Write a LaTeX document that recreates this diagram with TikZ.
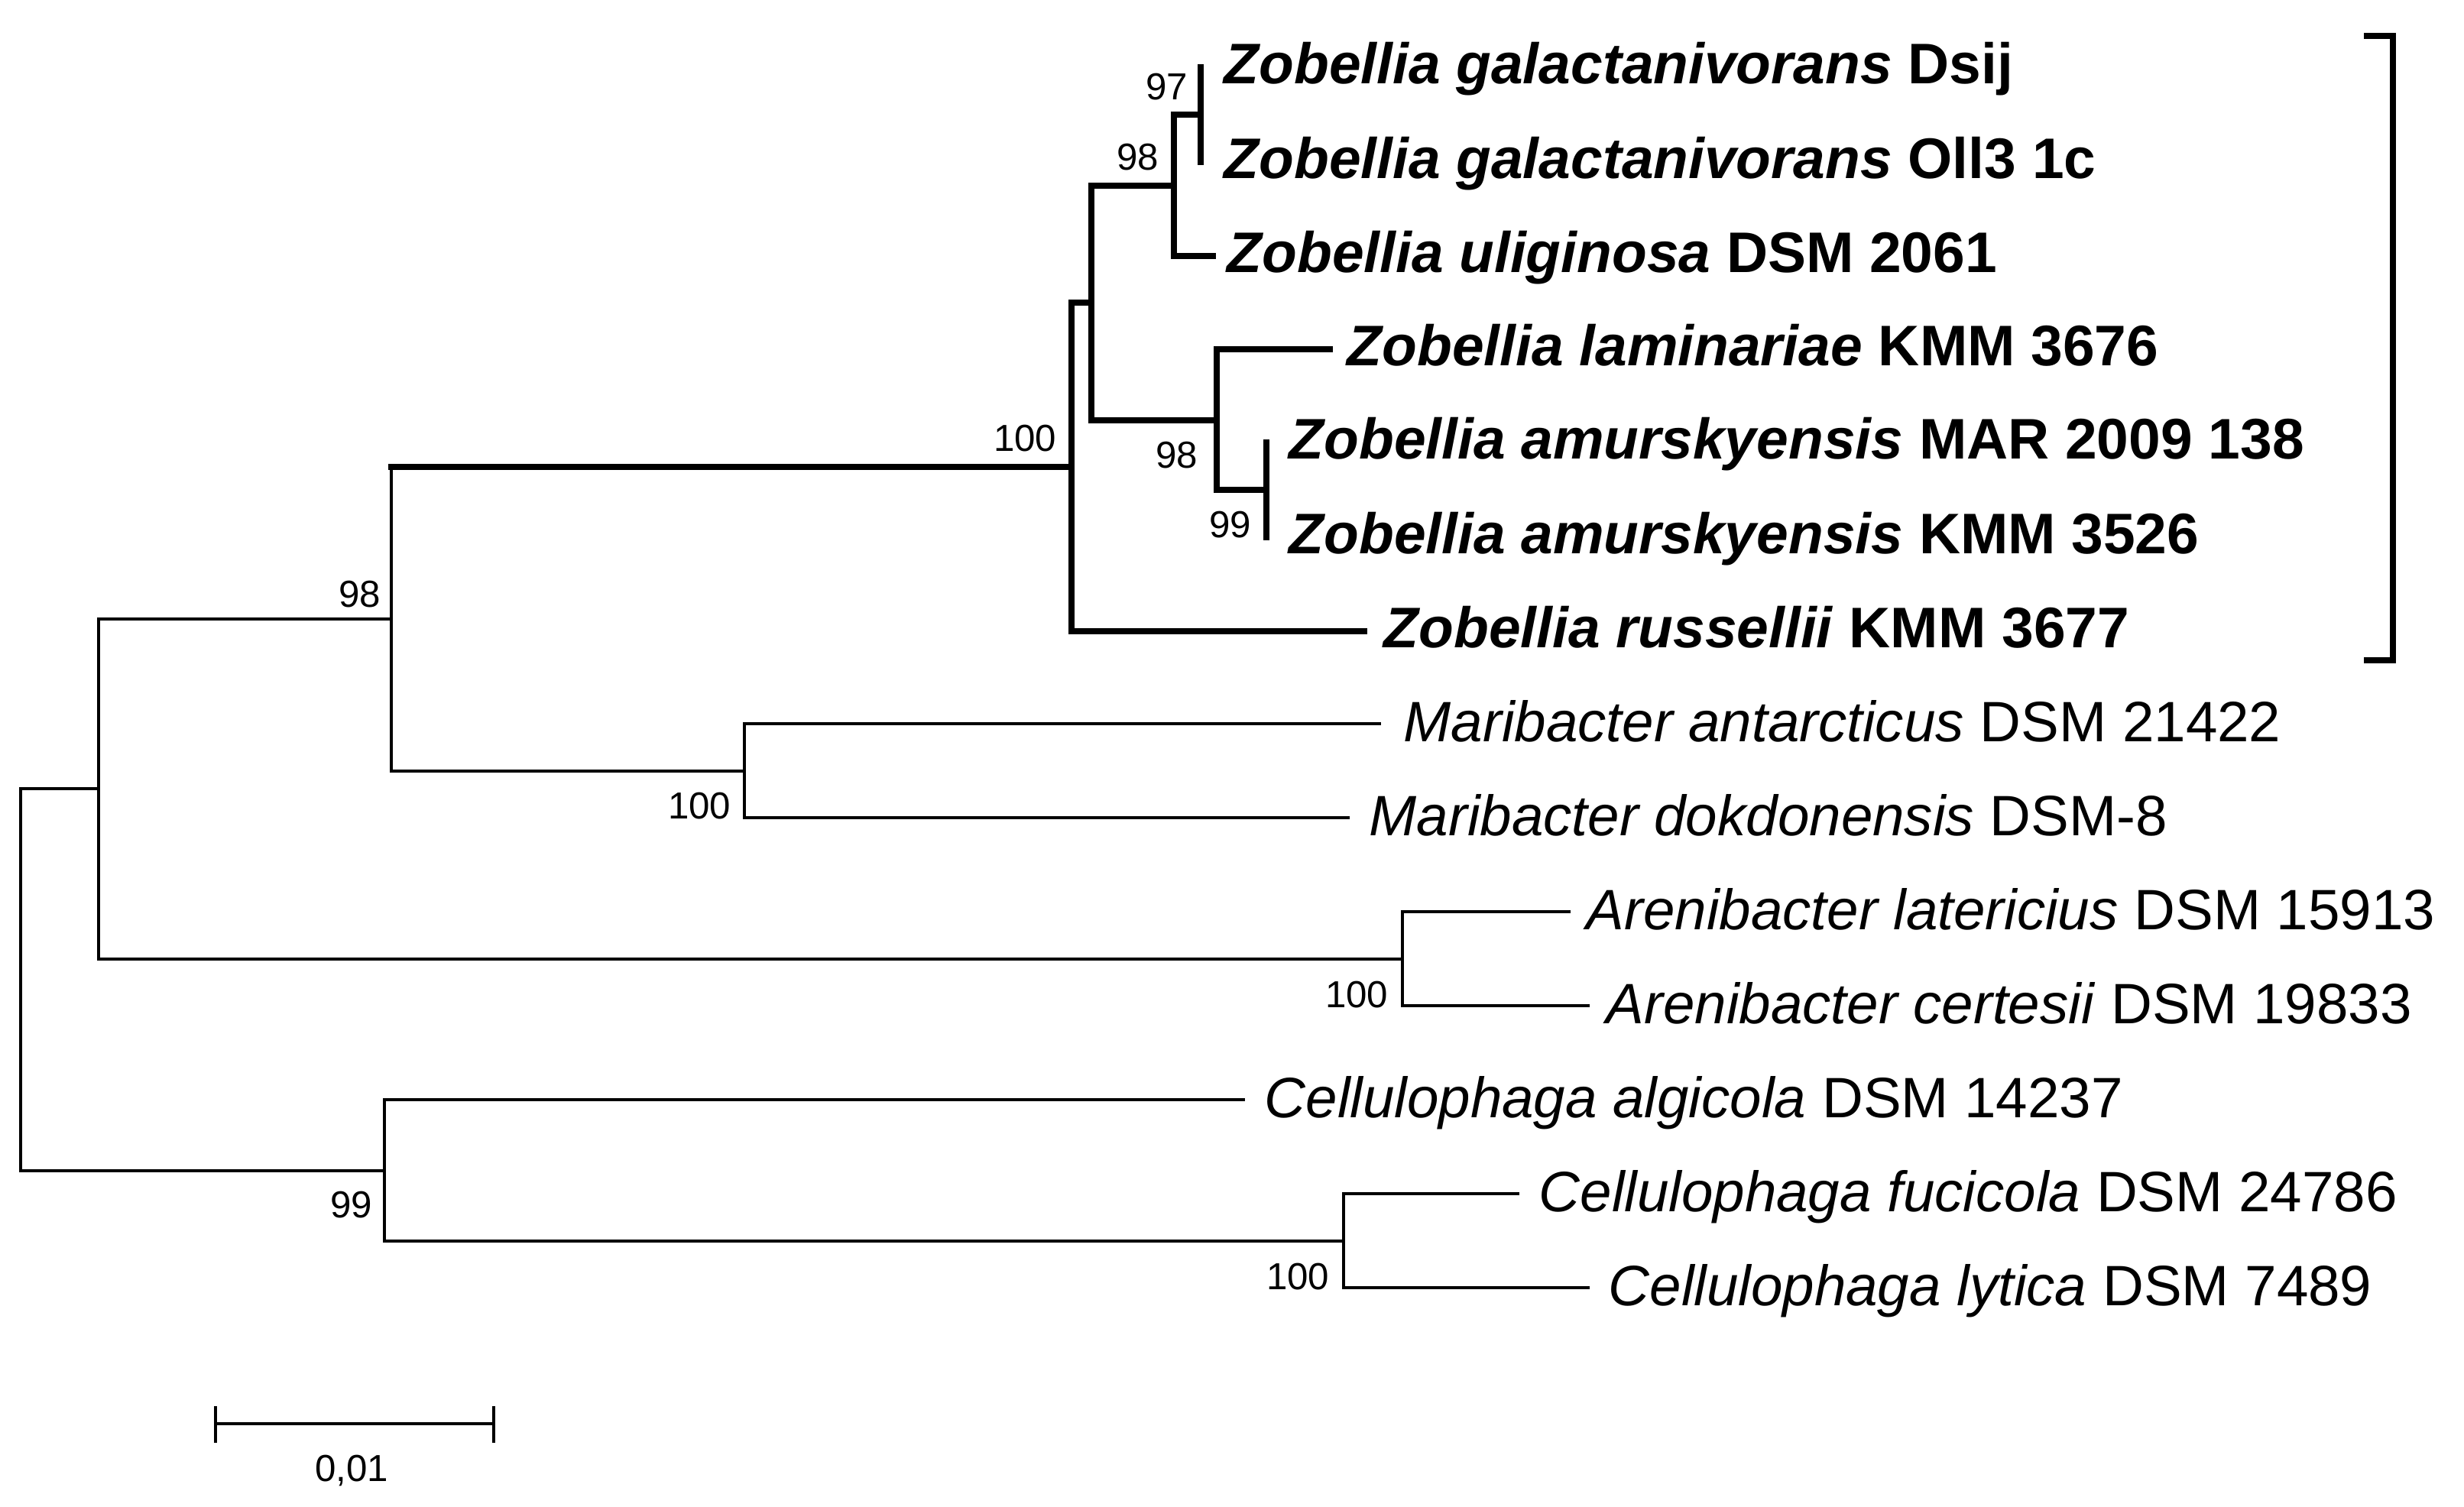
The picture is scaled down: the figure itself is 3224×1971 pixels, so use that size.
\documentclass[tikz,border=0pt]{standalone}
\usepackage{fontspec}
\setmainfont{Liberation Sans}
\begin{document}
\begin{tikzpicture}[x=0.01cm,y=-0.01cm,
  thinl/.style={line width=1.14pt, line join=miter, line cap=rect},
  thickl/.style={line width=2.28pt, line join=miter, line cap=rect},
  leaf/.style={anchor=base west, inner sep=0pt, font=\fontsize{21.2}{24}\selectfont},
  bleaf/.style={leaf, font=\fontsize{21.3}{24}\selectfont\bfseries},
  bs/.style={anchor=base east, inner sep=0pt, font=\fontsize{14}{16}\selectfont}]
\path[use as bounding box] (0,0) rectangle (3224,1971);
% internal nodes
\coordinate (R) at (27,1281);
\coordinate (A) at (129,1031.5);
\coordinate (B) at (512,810);
\coordinate (Z100) at (1402,611);
\coordinate (X) at (1428,396);
\coordinate (N98a) at (1536,243);
\coordinate (N97) at (1571,150);
\coordinate (N98b) at (1592,550);
\coordinate (N99) at (1657,641);
\coordinate (Mari) at (974,1008.5);
\coordinate (Aren) at (1835,1254.5);
\coordinate (C) at (503,1531.5);
\coordinate (Cell) at (1758,1623.5);
% leaf ends
\coordinate (L0) at (1571,88);
\coordinate (L1) at (1571,212);
\coordinate (L2) at (1587,335);
\coordinate (L3) at (1740,457);
\coordinate (L4) at (1657,579);
\coordinate (L5) at (1657,703);
\coordinate (L6) at (1785,826);
\coordinate (L7) at (1805,947);
\coordinate (L8) at (1764,1070);
\coordinate (L9) at (2053,1193);
\coordinate (L10) at (2078,1316);
\coordinate (L11) at (1627,1439);
\coordinate (L12) at (1986,1562);
\coordinate (L13) at (2078,1685);
% thin branches
\draw[thinl] (R) |- (A);
\draw[thinl] (R) |- (C);
\draw[thinl] (A) |- (B);
\draw[thinl] (A) |- (Aren);
\draw[thinl] (B) |- (Mari);
\draw[thinl] (B) -- (B |- Z100);
\draw[thinl] (Mari) |- (L7);
\draw[thinl] (Mari) |- (L8);
\draw[thinl] (Aren) |- (L9);
\draw[thinl] (Aren) |- (L10);
\draw[thinl] (C) |- (L11);
\draw[thinl] (C) |- (Cell);
\draw[thinl] (Cell) |- (L12);
\draw[thinl] (Cell) |- (L13);
% thick Zobellia clade
\draw[thickl] (B |- Z100) -- (Z100);
\draw[thickl] (Z100) |- (X);
\draw[thickl] (Z100) |- (L6);
\draw[thickl] (X) |- (N98a);
\draw[thickl] (X) |- (N98b);
\draw[thickl] (N98a) |- (N97);
\draw[thickl] (N98a) |- (L2);
\draw[thickl] (N97) |- (L0);
\draw[thickl] (N97) |- (L1);
\draw[thickl] (N98b) |- (L3);
\draw[thickl] (N98b) |- (N99);
\draw[thickl] (N99) |- (L4);
\draw[thickl] (N99) |- (L5);
% leaf labels
\node[bleaf] (t0) at (1601,109) {\textit{Zobellia galactanivorans} Dsij};
\node[bleaf] (t1) at (1601,233) {\textit{Zobellia galactanivorans} Oll3 1c};
\node[bleaf] (t2) at (1605,356) {\textit{Zobellia uliginosa} DSM 2061};
\node[bleaf] (t3) at (1762,478) {\textit{Zobellia laminariae} KMM 3676};
\node[bleaf] (t4) at (1686,600) {\textit{Zobellia amurskyensis} MAR 2009 138};
\node[bleaf] (t5) at (1686,724) {\textit{Zobellia amurskyensis} KMM 3526};
\node[bleaf] (t6) at (1810,847) {\textit{Zobellia russellii} KMM 3677};
\node[leaf] (t7) at (1836,970) {\textit{Maribacter antarcticus} DSM 21422};
\node[leaf] (t8) at (1791,1093) {\textit{Maribacter dokdonensis} DSM-8};
\node[leaf] (t9) at (2075,1216) {\textit{Arenibacter latericius} DSM 15913};
\node[leaf] (t10) at (2101,1339) {\textit{Arenibacter certesii} DSM 19833};
\node[leaf] (t11) at (1654,1462) {\textit{Cellulophaga algicola} DSM 14237};
\node[leaf] (t12) at (2013,1585) {\textit{Cellulophaga fucicola} DSM 24786};
\node[leaf] (t13) at (2104,1708) {\textit{Cellulophaga lytica} DSM 7489};
% bootstrap values
\node[bs] (b97) at (1555,130) {97};
\node[bs] (b98a) at (1517,222) {98};
\node[bs] (b100z) at (1383,590) {100};
\node[bs] (b98b) at (1568,612) {98};
\node[bs] (b99) at (1638,703) {99};
\node[bs] (b98B) at (499,794) {98};
\node[bs] (b100m) at (957,1071) {100};
\node[bs] (b100a) at (1817,1318) {100};
\node[bs] (b100c) at (1740,1687) {100};
\node[bs] (b99C) at (488,1593) {99};
% bracket
\coordinate (brT) at (3093,47);
\coordinate (brB) at (3093,864);
\draw[line width=2.28pt, line join=miter] (brT) -- ++(38,0) |- (brB);
% scale bar
\coordinate (sb1) at (282,1863);
\coordinate (sb2) at (646,1863);
\draw[thinl] (sb1) -- (sb2);
\draw[thinl] (sb1) ++(0,-21) -- ++(0,44);
\draw[thinl] (sb2) ++(0,-21) -- ++(0,44);
\node[anchor=base, inner sep=0pt, font=\fontsize{14}{16}\selectfont] (sbl) at (460,1938) {0,01};
\end{tikzpicture}
\end{document}
